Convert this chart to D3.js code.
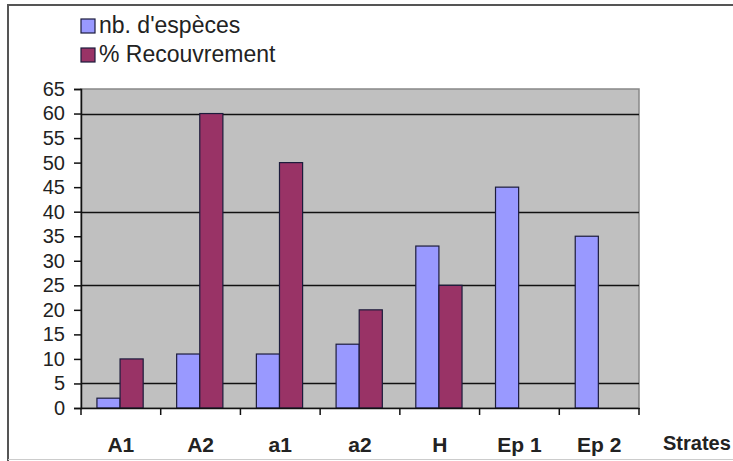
<!DOCTYPE html>
<html>
<head>
<meta charset="utf-8">
<script src="https://cdn.jsdelivr.net/npm/d3@7"></script>
<style>
  body { margin: 0; background: #fff; overflow: hidden; }
  svg { display: block; font-family: "Liberation Sans", Arial, sans-serif; }
</style>
</head>
<body>
<svg id="chart"></svg>
<script>
    var w = 733;
    var h = 461;

    // data
    var strates = ["A1", "A2", "a1", "a2", "H", "Ep 1", "Ep 2"];
    var seriesNames = ["nb. d'espèces", "% Recouvrement"];
    var nbEspeces = [2, 11, 11, 13, 33, 45, 35];
    var recouvrement = [10, 60, 50, 20, 25, 0, 0];
    var yTicks = [0, 5, 10, 15, 20, 25, 30, 35, 40, 45, 50, 55, 60, 65];
    var gridValues = [5, 25, 40, 60];
    var colors = ["#9999ff", "#993366"];

    var plot = {left: 81, right: 639, top: 89, bottom: 408};

    var svg = d3.select("#chart").attr("width", w).attr("height", h);

    // outer frame
    svg.append("line").attr("x1", 8).attr("x2", w).attr("y1", 5).attr("y2", 5)
      .style("stroke", "#555").style("stroke-width", 2);
    svg.append("line").attr("x1", 8).attr("x2", 8).attr("y1", 4).attr("y2", h)
      .style("stroke", "#555").style("stroke-width", 2);
    svg.append("line").attr("x1", 8).attr("x2", w).attr("y1", 459.5).attr("y2", 459.5)
      .style("stroke", "#ccc").style("stroke-width", 1);

    var x0 = d3.scaleBand()
      .domain(strates)
      .range([plot.left, plot.right]);

    var x1 = d3.scaleBand()
      .domain([0, 1])
      .range([x0.bandwidth() * 0.2, x0.bandwidth() * 0.78]);

    var y = d3.scaleLinear()
      .domain([0, 65])
      .range([plot.bottom, plot.top]);

    // plot area
    svg.append("rect")
      .attr("x", plot.left).attr("y", plot.top)
      .attr("width", plot.right - plot.left).attr("height", plot.bottom - plot.top)
      .style("fill", "#c0c0c0")
      .style("stroke", "#888")
      .style("stroke-width", 1.5);

    svg.selectAll(".grid")
      .data(gridValues)
      .enter()
      .append("line")
      .attr("class", "grid")
      .attr("x1", plot.left).attr("x2", plot.right)
      .attr("y1", function(d){ return Math.round(y(d)) + 0.5; })
      .attr("y2", function(d){ return Math.round(y(d)) + 0.5; })
      .style("stroke", "#111")
      .style("stroke-width", 1.5);

    // bars
    var rows = strates.map(function(s, i){
      return {strate: s, values: [nbEspeces[i], recouvrement[i]]};
    });

    var groups = svg.selectAll(".group")
      .data(rows)
      .enter()
      .append("g")
      .attr("class", "group")
      .attr("transform", function(d){ return "translate(" + x0(d.strate) + ",0)"; });

    groups.selectAll("rect")
      .data(function(d){
        return d.values.map(function(v, k){ return {k: k, v: v}; })
          .filter(function(e){ return e.v > 0; });
      })
      .enter()
      .append("rect")
      .attr("x", function(d){ return x1(d.k); })
      .attr("y", function(d){ return y(d.v); })
      .attr("width", x1.bandwidth())
      .attr("height", function(d){ return y(0) - y(d.v); })
      .style("fill", function(d){ return colors[d.k]; })
      .style("stroke", "#1c1c3c")
      .style("stroke-width", 1.2);

    // y axis
    var yAxis = d3.axisLeft(y).tickValues(yTicks).tickSize(7).tickPadding(9);
    var gy = svg.append("g")
      .attr("transform", "translate(" + plot.left + ",0)")
      .call(yAxis);
    gy.select(".domain").style("stroke", "#111").style("stroke-width", 1.5);
    gy.selectAll(".tick line").style("stroke", "#111").style("stroke-width", 1.5);
    gy.selectAll(".tick text")
      .style("font-size", "20px")
      .style("font-family", "Liberation Sans, Arial, sans-serif")
      .style("fill", "#222");

    // x axis
    var xAxis = d3.axisBottom(x0).tickSize(0).tickPadding(29);
    var gx = svg.append("g")
      .attr("transform", "translate(0," + plot.bottom + ")")
      .call(xAxis);
    gx.select(".domain").style("stroke", "#111").style("stroke-width", 1.5);
    gx.selectAll(".tick text")
      .style("font-size", "21px")
      .style("font-weight", "bold")
      .style("font-family", "Liberation Sans, Arial, sans-serif")
      .style("fill", "#222");

    // ticks between categories
    var boundaries = strates.map(function(s){ return x0(s); }).concat([plot.right]);
    svg.selectAll(".xtick")
      .data(boundaries)
      .enter()
      .append("line")
      .attr("class", "xtick")
      .attr("x1", function(d){ return d; }).attr("x2", function(d){ return d; })
      .attr("y1", plot.bottom).attr("y2", plot.bottom + 7)
      .style("stroke", "#111")
      .style("stroke-width", 1.5);

    svg.append("text")
      .attr("x", 663)
      .attr("y", 450)
      .style("font-size", "20px")
      .style("font-weight", "bold")
      .style("fill", "#222")
      .text("Strates");

    // legend
    var legend = svg.selectAll(".legend")
      .data(seriesNames)
      .enter()
      .append("g")
      .attr("class", "legend")
      .attr("transform", function(d, i){ return "translate(81," + (19 + i * 29) + ")"; });

    legend.append("rect")
      .attr("width", 14).attr("height", 14)
      .style("fill", function(d, i){ return colors[i]; })
      .style("stroke", "#1c1c3c")
      .style("stroke-width", 1.2);

    legend.append("text")
      .attr("x", 18)
      .attr("y", 14)
      .style("font-size", "23px")
      .style("fill", "#222")
      .text(function(d){ return d; });
</script>
</body>
</html>
